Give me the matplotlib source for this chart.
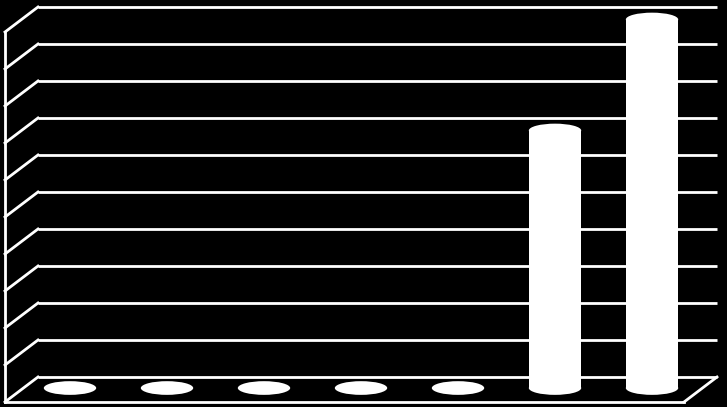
import matplotlib
matplotlib.use("Agg")
import matplotlib.pyplot as plt
from matplotlib.patches import Ellipse, Rectangle

# Data
categories = ["1", "2", "3", "4", "5", "6", "7"]
values = [0, 0, 0, 0, 0, 7, 10]
y_ticks = list(range(0, 11))

# Style / geometry (in data units)
bar_width = 0.54
ellipse_h = 0.37
depth_dx = 0.17    # half-depth horizontal offset
depth_dy = 0.338   # half-depth vertical offset (value units)
base_shift = 0.04  # bar base slightly above mid-depth floor line
fg = "white"
lw = 2.0

fig = plt.figure(figsize=(7.27, 4.07), dpi=100, facecolor="black")
ax = fig.add_axes([0, 0, 1, 1])
ax.set_facecolor("black")
ax.set_xlim(-0.7216, 6.773)
ax.set_ylim(-0.473, 10.527)
ax.axis("off")

n = len(categories)
x_left = -0.5
x_right = n - 0.5
vmax = max(y_ticks)

# back wall gridlines
for k in y_ticks:
    ax.plot([x_left + depth_dx, x_right + depth_dx], [k + depth_dy, k + depth_dy],
            color=fg, lw=lw, solid_capstyle="butt", zorder=1)
    # left wall diagonals
    ax.plot([x_left - depth_dx, x_left + depth_dx], [k - depth_dy, k + depth_dy],
            color=fg, lw=lw, zorder=1)
# left wall front vertical
ax.plot([x_left - depth_dx, x_left - depth_dx], [-depth_dy, vmax - depth_dy],
        color=fg, lw=lw, zorder=1)
# floor front edge and right edge
ax.plot([x_left - depth_dx, x_right - depth_dx], [-depth_dy, -depth_dy],
        color=fg, lw=lw, zorder=1)
ax.plot([x_right - depth_dx, x_right + depth_dx], [-depth_dy, depth_dy],
        color=fg, lw=lw, zorder=1)

# cylinders
for i, v in enumerate(values):
    ax.add_patch(Ellipse((i, base_shift), bar_width, ellipse_h, facecolor=fg,
                         edgecolor="none", zorder=3))
    if v > 0:
        ax.add_patch(Rectangle((i - bar_width / 2, base_shift), bar_width, v - base_shift,
                               facecolor=fg, edgecolor="none", zorder=3))
        ax.add_patch(Ellipse((i, v), bar_width, ellipse_h, facecolor=fg,
                             edgecolor="none", zorder=3))

fig.savefig("out.png", dpi=100, facecolor="black")
